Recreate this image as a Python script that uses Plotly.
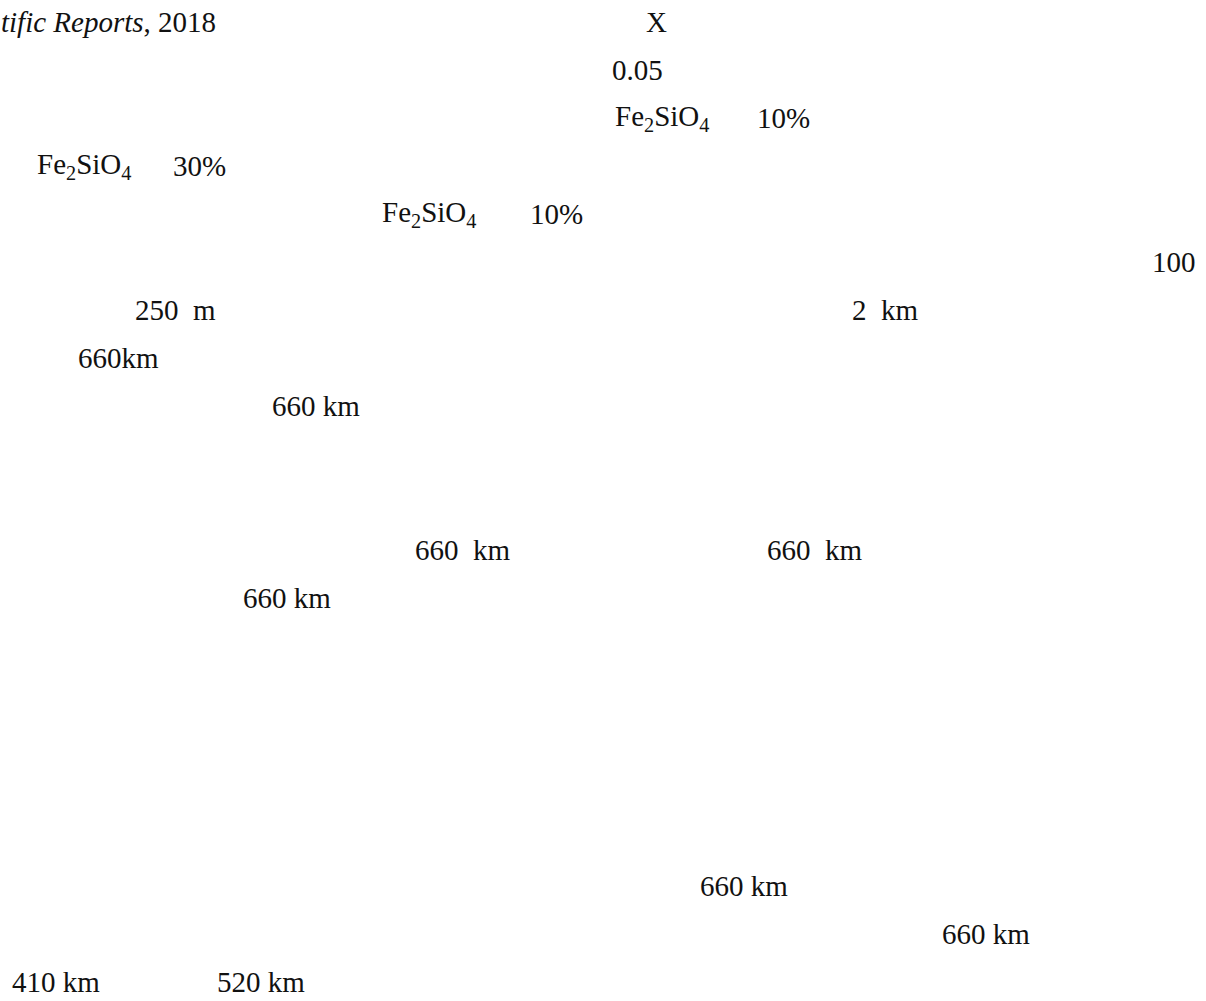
import plotly.graph_objects as go

# Text fragments visible on the page (the data of this "chart")
fragments = [
    "<i>tific Reports</i>, 2018", "X",
    "0.05",
    "Fe<sub>2</sub>SiO<sub>4</sub>", "10%",
    "Fe<sub>2</sub>SiO<sub>4</sub>", "30%",
    "Fe<sub>2</sub>SiO<sub>4</sub>", "10%",
    "100",
    "250\u00a0\u00a0m", "2\u00a0\u00a0km",
    "660km",
    "660\u00a0km",
    "660\u00a0\u00a0km", "660\u00a0\u00a0km",
    "660\u00a0km",
    "660\u00a0km",
    "660\u00a0km",
    "410\u00a0km", "520\u00a0km",
]

# Layout: text line index and left edge (px) of each fragment
line_index = [0, 0, 1, 2, 2, 3, 3, 4, 4, 5, 6, 6, 7, 8, 11, 11, 12, 18, 19, 20, 20]
left_px = [0, 645, 611, 614, 756, 36, 172, 381, 529, 1151, 134, 851, 77, 271,
           414, 766, 242, 699, 941, 11, 216]

W, H = 1206, 1001
LINE0, LINE_STEP = 22, 48

fig = go.Figure()
fig.add_trace(go.Scatter(x=[None], y=[None], mode="markers", showlegend=False, hoverinfo="skip"))

for txt, li, x in zip(fragments, line_index, left_px):
    fig.add_annotation(
        x=x, y=LINE0 + LINE_STEP * li, xref="x", yref="y",
        text=txt, showarrow=False, xanchor="left", yanchor="middle",
        font=dict(family="Liberation Serif", size=29, color="#111111"),
        borderpad=0,
    )

fig.update_xaxes(range=[0, W], visible=False, fixedrange=True)
fig.update_yaxes(range=[H, 0], visible=False, fixedrange=True)
fig.update_layout(
    width=W, height=H,
    margin=dict(l=0, r=0, t=0, b=0),
    paper_bgcolor="white", plot_bgcolor="white",
    showlegend=False,
)

fig.write_html(
    "out.html",
    config={"displayModeBar": False},
    post_script="document.body.style.margin='0';document.body.style.padding='0';",
)
